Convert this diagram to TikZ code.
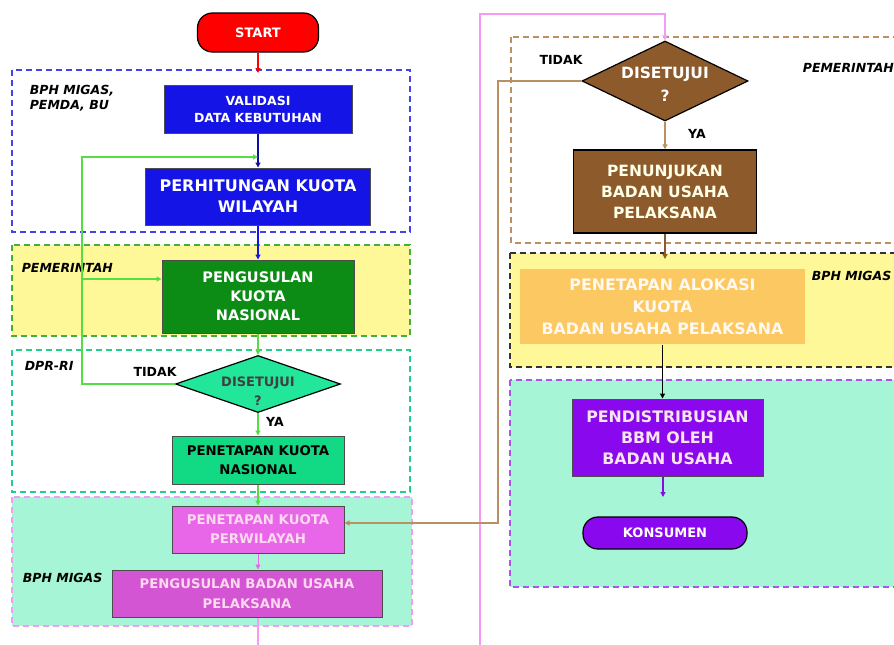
\documentclass[tikz,border=0pt]{standalone}
\usepackage{fontspec}
\setmainfont{DejaVu Sans}
\usetikzlibrary{arrows.meta, shapes.geometric, calc}
\definecolor{cblue}{HTML}{1414E6}
\definecolor{cgreen}{HTML}{0C8C14}
\definecolor{clime}{HTML}{55DD44}
\definecolor{cmint}{HTML}{22E69A}
\definecolor{cmintbox}{HTML}{11D984}
\definecolor{cmag}{HTML}{E866E8}
\definecolor{cmagdk}{HTML}{D455D4}
\definecolor{cpink}{HTML}{F59AF5}
\definecolor{cbrown}{HTML}{8C5A2B}
\definecolor{cbrownl}{HTML}{B89062}
\definecolor{corange}{HTML}{FCC862}
\definecolor{cpurple}{HTML}{8A08EE}
\definecolor{cyellow}{HTML}{FFF898}
\definecolor{caqua}{HTML}{A6F5D6}
\newcommand{\fs}[2]{\bfseries\fontsize{#1}{#2}\selectfont}
\tikzset{
  every picture/.style={line width=1pt},
  box/.style={draw=black!70, fill=#1, align=center, inner sep=1pt, text=white, font=\fs{14}{18}},
  box/.default=cblue,
  decide/.style={diamond, draw=black, line width=1.2pt, fill=#1, inner sep=0pt},
  decidetext/.style={align=center, inner sep=0pt, font=\fs{13}{19}},
  term/.style={draw=black, line width=1.2pt, fill=#1, rounded corners=15pt, text=white, font=\fs{13}{15}},
  region/.style={draw=#1, dashed, dash pattern=on 6pt off 4pt, line width=1.5pt},
  arrow/.style={-{Triangle[length=5pt, width=5pt]}, draw=#1, line width=1.2pt},
  arrow/.default=black,
  lane/.style={font=\bfseries\itshape\fontsize{12.5}{15}\selectfont, align=left, anchor=west},
  tag/.style={font=\fs{12.5}{14}},
}
\begin{document}
\begin{tikzpicture}[x=1pt, y=-1pt]
  \useasboundingbox (0,0) rectangle (894,645);
  \clip (0,0) rectangle (894,645);
  \fill[white] (0,0) rectangle (894,645);
  % ---- swimlanes, left column
  \draw[region=cblue!80] (12,70) rectangle (410,232);
  \draw[region=clime!80!black, fill=cyellow] (12,245) rectangle (410,336);
  \draw[region=cmint!90!black] (12,350) rectangle (410,492);
  \draw[region=cpink, fill=caqua] (12,497) rectangle (412,626);
  % ---- swimlanes, right column
  \draw[region=cbrownl] (511,37) rectangle (904,243);
  \draw[region=black!80, fill=cyellow] (510,253) rectangle (904,367);
  \draw[region=cpurple!70, fill=caqua] (510,380) rectangle (904,587);
  \node[lane] at (26,98) {BPH MIGAS,\\PEMDA, BU};
  \node[lane] at (18,268) {PEMERINTAH};
  \node[lane] at (21,366) {DPR-RI};
  \node[lane] at (19,578) {BPH MIGAS};
  \node[lane] at (799,68) {PEMERINTAH};
  \node[lane] at (808,276) {BPH MIGAS};
  % ---- steps, left column
  \node[term=red, minimum width=121pt, minimum height=39pt] (start) at (258,32.5) {START};
  \node[box, minimum width=188pt, minimum height=48pt, font=\fs{12.5}{17}] (valid) at (258,109) {VALIDASI\\DATA KEBUTUHAN};
  \node[box, minimum width=225pt, minimum height=57pt, font=\fs{16}{21}] (hitung) at (258,196.5) {PERHITUNGAN KUOTA\\WILAYAH};
  \node[box=cgreen, minimum width=192pt, minimum height=73pt, font=\fs{14.5}{19}] (usul) at (258,296.5) {PENGUSULAN\\KUOTA\\NASIONAL};
  \node[decide=cmint, minimum width=165pt, minimum height=57pt] (setuju1) at (258,384) {};
  \node[decidetext, text=black!75] (setuju1txt) at (258,391) {DISETUJUI\\?};
  \node[box=cmintbox, text=black, minimum width=172pt, minimum height=48pt, font=\fs{13.3}{19}] (tetapnas) at (258,460) {PENETAPAN KUOTA\\NASIONAL};
  \node[box=cmag, text=magenta!15, minimum width=172pt, minimum height=47pt, font=\fs{13.3}{19}] (tetapwil) at (258,529.5) {PENETAPAN KUOTA\\PERWILAYAH};
  \node[box=cmagdk, text=magenta!15, minimum width=270pt, minimum height=47pt, font=\fs{13.2}{20}] (usulbu) at (247,593.5) {PENGUSULAN BADAN USAHA\\PELAKSANA};
  % ---- steps, right column
  \node[decide=cbrown, minimum width=166pt, minimum height=80pt] (setuju2) at (665,81) {};
  \node[decidetext, text=white, font=\fs{15.5}{23}] (setuju2txt) at (665,84) {DISETUJUI\\?};
  \node[box=cbrown, draw=black, line width=1.5pt, minimum width=183pt, minimum height=83pt, text=white!90!yellow, font=\fs{15.5}{21}] (tunjuk) at (665,191.5) {PENUNJUKAN\\BADAN USAHA\\PELAKSANA};
  \node[box=corange, draw=none, minimum width=285pt, minimum height=75pt, text=white!95!orange, font=\fs{15.8}{22}] (alokasi) at (662.5,306.5) {PENETAPAN ALOKASI\\KUOTA\\BADAN USAHA PELAKSANA};
  \node[box=cpurple, minimum width=191pt, minimum height=77pt, text=purple!10, font=\fs{15.8}{21}] (distrib) at (667.5,437.5) {PENDISTRIBUSIAN\\BBM OLEH\\BADAN USAHA};
  \node[term=cpurple, minimum width=164pt, minimum height=32pt] (konsumen) at (665,533) {KONSUMEN};
  % ---- decision labels
  \node[tag] at (155,372) {TIDAK};
  \node[tag] at (275,422) {YA};
  \node[tag] at (561,60) {TIDAK};
  \node[tag] at (697,134) {YA};
  % ---- free ends
  \coordinate (startend) at (258,73);
  \coordinate (loopbot) at (82,384);
  \coordinate (looptop) at (82,157);
  \coordinate (loopmid) at (82,279);
  \coordinate (pinkbot) at (480,650);
  \coordinate (pinktop) at (480,14);
  \coordinate (tunjukend) at (665,259);
  \coordinate (distribend) at (663,497);
  % ---- connectors, left column
  \draw[arrow=red] (start) -- (startend);
  \draw[arrow=cblue!70!black] (valid) -- (hitung);
  \draw[arrow=cblue] (hitung) -- (usul);
  \draw[arrow=clime] (usul) -- (setuju1);
  \draw[arrow=clime] (setuju1) -- (tetapnas);
  \draw[arrow=clime] (tetapnas) -- (tetapwil);
  \draw[arrow=cmag, line width=0.8pt] (tetapwil) -- (tetapwil |- usulbu.north);
  \draw[arrow=clime] (setuju1.west) -- (loopbot) -- (looptop) -- (looptop -| hitung.north);
  \draw[arrow=clime] (loopmid) -- (loopmid -| usul.west);
  \draw[arrow=cpink] (usulbu.south -| tetapwil) -- (pinkbot -| tetapwil);
  % ---- connectors, right column
  \draw[arrow=cpink, line width=1.5pt] (pinkbot) -- (pinktop) -- (pinktop -| setuju2) -- (setuju2.north);
  \draw[arrow=cbrownl] (setuju2) -- (tunjuk);
  \draw[arrow=cbrownl, line width=1.5pt] (setuju2.west) -- (498,81) -- (498,523) -- (tetapwil.east |- 0,523);
  \draw[arrow=cbrown] (tunjuk) -- (tunjukend);
  \draw[arrow] (alokasi) -- (distrib.north -| alokasi);
  \draw[arrow=cpurple] (distrib.south -| distribend) -- (distribend);
\end{tikzpicture}
\end{document}
